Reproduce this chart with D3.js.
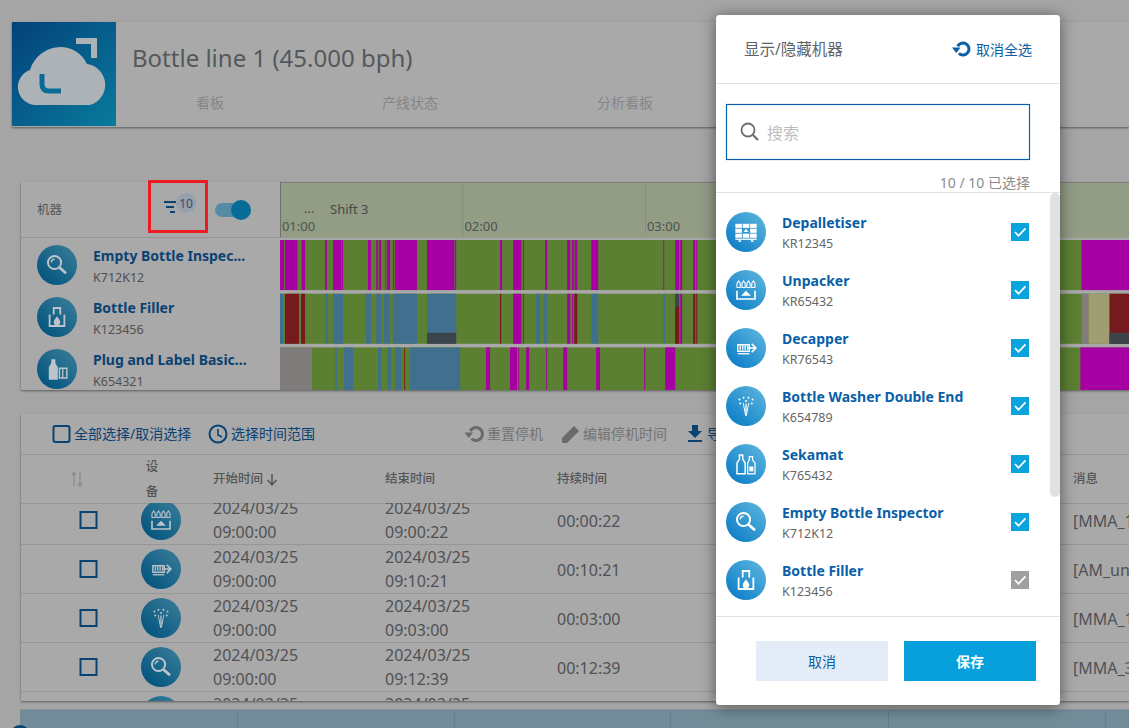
<!DOCTYPE html>
<html>
<head>
<meta charset="utf-8">
<script src="https://cdn.jsdelivr.net/npm/d3@7"></script>
<style>
  html, body { margin: 0; padding: 0; background: #a5a5a5; overflow: hidden; }
  svg { display: block; }
  text { font-family: "Noto Sans", "Noto Sans CJK SC", sans-serif; }
</style>
</head>
<body>
<script>
// timeline values, minutes after 01:00
const hourTicks = [0, 60, 120];
const hourLabels = ["01:00", "02:00", "03:00"];
const machineNames = ["Empty Bottle Inspec...", "Bottle Filler", "Plug and Label Basic..."];
const machineCodes = ["K712K12", "K123456", "K654321"];
const machineIcons = ["search", "filler", "plug"];
const timelineStart = -0.33;
const timelineEnd = 279;

// [start, end, state, optional share of the row, from the bottom]
const inspectorStops = [
  [-0.33, 1, "idle"], [1.3, 5.4, "idle"], [6.8, 7.9, "idle"], [14.5, 15.1, "idle"], [17.1, 19.8, "idle"],
  [20, 20.4, "idle"], [28.6, 29.6, "idle"], [31.3, 31.9, "idle"], [32.2, 32.9, "idle"], [34.3, 34.6, "idle"],
  [34.9, 35.9, "idle"], [36.8, 37.2, "idle"], [37.5, 44.7, "idle"], [48, 56.9, "idle"], [57.1, 57.6, "idle"],
  [72, 72.7, "idle"], [76.3, 79, "idle"], [79.6, 79.9, "idle"], [86.8, 87.5, "idle"], [94.1, 95.1, "idle"],
  [95.7, 96.4, "idle"], [96.6, 97.4, "idle"], [102, 104.3, "idle"], [125.7, 126, "idle"], [129.6, 130.9, "idle"],
  [131.25, 131.9, "idle"], [135.5, 136.2, "idle"], [136.5, 136.85, "idle"], [263.2, 279, "idle"]
];
const fillerStops = [
  [-0.33, 0.7, "wait"], [1.3, 5.9, "fault"], [6.6, 7.9, "fault"], [14.5, 15.5, "wait"], [17.1, 20.4, "wait"],
  [28, 29.6, "wait"], [31.3, 32.9, "wait"], [33.9, 35.9, "wait"], [36.8, 44.7, "wait"], [48, 57.6, "wait"],
  [48, 57.6, "blocked", 0.22], [72, 72.4, "fault"], [76.3, 79, "idle"], [79.6, 79.9, "idle"], [83.9, 85.2, "wait"],
  [86.5, 87.5, "wait"], [94.1, 95.1, "idle"], [95.7, 96.05, "idle"], [96.4, 97.4, "fault"], [102, 104.3, "wait"],
  [125.7, 126.3, "wait"], [129.6, 130.9, "blocked"], [129.6, 130.9, "fault", 0.74], [131.25, 131.9, "idle"],
  [135.5, 136.2, "fault"], [136.5, 136.85, "fault"], [263.2, 265.5, "off"], [265.5, 272.4, "setup"],
  [272.4, 279, "fault"], [272.4, 279, "blocked", 0.22]
];
const plugStops = [
  [-0.33, 10.2, "off"], [17.8, 18.4, "wait"], [20.7, 23.7, "wait"], [31.9, 32.9, "wait"], [34.9, 36.2, "wait"],
  [37.5, 39.5, "wait"], [40.5, 40.8, "fault"], [42.4, 58.9, "wait"], [67.4, 68.75, "idle"], [75.3, 77.6, "idle"],
  [78, 78.3, "idle"], [80.6, 81.6, "idle"], [87.2, 87.5, "idle"], [92.8, 94.1, "idle"], [103.6, 104.9, "idle"],
  [119.4, 119.75, "idle"], [126.3, 129.6, "idle"], [262.8, 279, "idle"]
];
const machineStops = [inspectorStops, fillerStops, plugStops];

// table
const tableIcons = ["unpacker", "decapper", "washer", "search", "depal"];
const tableStart = ["09:00:00", "09:00:00", "09:00:00", "09:00:00", "09:00:00"];
const tableEnd = ["09:00:22", "09:10:21", "09:03:00", "09:12:39", "09:00:00"];
const tableDuration = ["00:00:22", "00:10:21", "00:03:00", "00:12:39", ""];
const tableMessage = ["[MMA_1", "[AM_un", "[MMA_1", "[MMA_3", ""];
const tableDate = "2024/03/25";

// dialog list
const dialogNames = ["Depalletiser", "Unpacker", "Decapper", "Bottle Washer Double End", "Sekamat", "Empty Bottle Inspector", "Bottle Filler"];
const dialogCodes = ["KR12345", "KR65432", "KR76543", "K654789", "K765432", "K712K12", "K123456"];
const dialogIcons = ["depal", "unpacker", "decapper", "washer", "sekamat", "search", "filler"];

const stateColor = {
  run: "#5c8031", idle: "#a600a2", wait: "#41708f", fault: "#761a1d",
  blocked: "#3c454c", off: "#807c7c", setup: "#a09d72"
};
const navy = "#0a4272";
const blue = "#0a5fa8";

const svg = d3.select("body").append("svg").attr("width", 1129).attr("height", 728);
const defs = svg.append("defs");

function gradient (id, x1, y1, x2, y2, from, to) {
  const g = defs.append("linearGradient").attr("id", id)
    .attr("x1", x1).attr("y1", y1).attr("x2", x2).attr("y2", y2);
  g.append("stop").attr("offset", 0).attr("stop-color", from);
  g.append("stop").attr("offset", 1).attr("stop-color", to);
}
gradient("iconDim", 0.15, 0.9, 0.9, 0.1, "#04557f", "#367a97");
gradient("iconBright", 0.15, 0.9, 0.9, 0.1, "#0f80c8", "#58b2dc");
gradient("logoFill", 0, 0, 1, 1, "#03427a", "#097a9c");

defs.append("clipPath").attr("id", "ganttClip").append("rect")
  .attr("x", 280).attr("y", 238).attr("width", 849).attr("height", 152);
defs.append("clipPath").attr("id", "tableClip").append("rect")
  .attr("x", 21).attr("y", 503).attr("width", 1108).attr("height", 198);
defs.append("clipPath").attr("id", "listClip").append("rect")
  .attr("x", 716).attr("y", 193).attr("width", 334).attr("height", 423);

const shadow = defs.append("filter").attr("id", "modalShadow")
  .attr("x", "-15%").attr("y", "-10%").attr("width", "130%").attr("height", "120%");
shadow.append("feDropShadow").attr("dx", 0).attr("dy", 2).attr("stdDeviation", 8)
  .attr("flood-color", "#000").attr("flood-opacity", 0.5);
const panelShadow = defs.append("filter").attr("id", "panelShadow")
  .attr("x", "-2%").attr("y", "-5%").attr("width", "104%").attr("height", "110%");
panelShadow.append("feDropShadow").attr("dx", 0).attr("dy", 1).attr("stdDeviation", 0.8)
  .attr("flood-color", "#000").attr("flood-opacity", 0.45);

function txt (parent, x, y, str, size, color, weight, anchor) {
  return parent.append("text").attr("x", x).attr("y", y)
    .attr("dominant-baseline", "central")
    .attr("font-size", size).attr("fill", color)
    .attr("font-weight", weight || 400)
    .attr("text-anchor", anchor || "start")
    .text(str);
}

function rect (parent, x, y, w, h, fill) {
  return parent.append("rect").attr("x", x).attr("y", y).attr("width", w).attr("height", h).attr("fill", fill);
}

function hline (parent, x1, x2, y, color) {
  parent.append("line").attr("x1", x1).attr("x2", x2).attr("y1", y).attr("y2", y).attr("stroke", color);
}

function drawIcon (parent, name, cx, cy, dim) {
  const g = parent.append("g").attr("transform", `translate(${cx},${cy})`);
  const c = dim ? "#bcc5ca" : "#fff";
  g.append("circle").attr("r", 20).attr("fill", `url(#${dim ? "iconDim" : "iconBright"})`);
  // glyphs are a bit smaller than the drawing box below
  const glyph = g.append("g").attr("transform", "scale(0.82)");
  const line = d => glyph.append("path").attr("d", d).attr("fill", "none").attr("stroke", c)
    .attr("stroke-width", 1.6);
  const solid = d => glyph.append("path").attr("d", d).attr("fill", c);

  if (name === "search") {
    glyph.append("circle").attr("cx", -3).attr("cy", -3).attr("r", 8).attr("fill", "none").attr("stroke", c).attr("stroke-width", 2.4);
    line("M-7,-3 a4,4 0 0 1 4,-4");
    line("M3,3 L11,10").attr("stroke-width", 3.4);
  } else if (name === "filler") {
    line("M-9,-3 V11 H9 V-3").attr("stroke-width", 2.2);
    line("M-4,-3 V-11 H4 V-3").attr("stroke-width", 2.2);
    solid("M0,-1 C2,2 4,4 4,6 a4,4 0 0 1 -8,0 C-4,4 -2,2 0,-1 Z");
  } else if (name === "plug") {
    solid("M-10,-2 L-7,-7 V-12 H-2 V-7 L1,-2 V13 H-10 Z");
    line("M3,-1 H12 V11 H3 Z").attr("stroke-width", 1.8);
    line("M7,-1 V11");
  } else if (name === "unpacker") {
    [-9, -3, 3, 9].forEach(x => {
      line(`M${x - 2},-3 V-8 L${x},-11 L${x + 2},-8 V-3 Z`).attr("stroke-width", 1.3);
    });
    line("M-11,1 V11 H11 V1").attr("stroke-width", 2);
    solid("M-6,7 L0,1 L6,7 Z");
  } else if (name === "decapper") {
    line("M-10,-4 H4 V4 H-10 Z");
    [-7, -4, -1, 2].forEach(x => line(`M${x},-3 V2`));
    line("M-10,7 H4");
    line("M3,0 H11 M7,-5 L12,0 L7,5").attr("stroke-width", 2);
  } else if (name === "washer") {
    solid("M-3,-4 L0,10 L3,-4 L4,-4 L1,12 H-1 L-4,-4 Z");
    [[-8, -8], [-3, -10], [3, -10], [8, -8], [-7, -3], [7, -3], [0, -6]].forEach(p => {
      glyph.append("circle").attr("cx", p[0]).attr("cy", p[1]).attr("r", 1.2).attr("fill", c);
    });
    line("M0,-3 V8");
  } else if (name === "sekamat") {
    line("M-11,-1 L-8,-6 V-11 H-4 V-6 L-1,-1 V12 H-11 Z").attr("stroke-width", 1.8);
    line("M2,-1 L4,-5 V-9 H8 V-5 L11,-1 V12 H2 Z").attr("stroke-width", 1.5);
    solid("M4,3 H9 V9 H4 Z");
  } else {
    [-9, 0, 9].forEach((x, i) => {
      rect(glyph, x - 4, -10, 8, 5, c);
      rect(glyph, x - 4, 2, 8, 5, c);
      if (i !== 1) rect(glyph, x - 4, -4, 8, 5, c);
    });
    solid("M-3,0 L0,-4 L3,0 Z");
    rect(glyph, -13, 8, 26, 1.6, c);
    rect(glyph, -9, 10, 3, 2, c);
    rect(glyph, 6, 10, 3, 2, c);
  }
}

function refreshIcon (parent, cx, cy, color, r) {
  const g = parent.append("g").attr("transform", `translate(${cx},${cy})`);
  g.append("path").attr("d", d3.arc()({ innerRadius: r - 3, outerRadius: r, startAngle: -1.1, endAngle: 3.9 }))
    .attr("fill", color);
  g.append("path").attr("d", `M${-r - 3.5},${-1.5} h8.5 l-4.2,5.5 Z`).attr("fill", color);
}

// ---- background page: top banner
const banner = svg.append("g");
rect(banner, 12, 22, 1117, 105, "#a9a9a9").attr("filter", "url(#panelShadow)");
rect(banner, 12, 22, 104, 104, "url(#logoFill)");
banner.append("path")
  .attr("d", "M36,105 A18,18 0 0 1 30,70 A32,32 0 0 1 62,47 A30,30 0 0 1 87,64 A21,21 0 0 1 90,105 Z")
  .attr("fill", "#adb2b6");
banner.append("path").attr("d", "M76,41 H94 V58").attr("fill", "none").attr("stroke", "#adb2b6").attr("stroke-width", 6);
banner.append("path").attr("d", "M42,74 V84 Q42,91 49,91 H61").attr("fill", "none").attr("stroke", "#0a6a98").attr("stroke-width", 5);
txt(banner, 132, 57.5, "Bottle line 1 (45.000 bph)", 24, "#54585c");
["看板", "产线状态", "分析看板"].forEach((label, i) => {
  txt(banner, [210, 410, 625][i], 102, label, 14, "#868686", 400, "middle");
});

// ---- timeline panel
const gantt = svg.append("g");
rect(gantt, 21, 182, 1108, 208, "#a9a9a9").attr("filter", "url(#panelShadow)");
rect(gantt, 281, 183, 848, 55, "#939d86");
hline(gantt, 281, 1129, 182.5, "#808080");
hline(gantt, 21, 281, 237.5, "#969696");
rect(gantt, 280, 182, 1, 55, "#6f6f6f");
rect(gantt, 280, 238, 849, 152, "#a8a8a8");

const xTime = d3.scaleLinear().domain([0, 60]).range([281, 463.5]);
const yRow = d3.scaleBand().domain(machineNames).range([240, 397.5]).paddingInner(0.068).paddingOuter(0);
const shareHeight = d3.scaleLinear().domain([0, 1]).range([0, yRow.bandwidth()]);

const axis = d3.axisBottom(xTime)
  .tickValues(hourTicks)
  .tickSize(50)
  .tickFormat((d, i) => hourLabels[i]);
const axisG = gantt.append("g").attr("transform", "translate(0,185)").call(axis);
axisG.select(".domain").remove();
axisG.selectAll(".tick line").attr("stroke", "#858e79").attr("transform", "translate(-1,0)");
axisG.selectAll(".tick:first-of-type line").remove();
axisG.selectAll(".tick text")
  .attr("x", 17).attr("y", 41).attr("dy", 0)
  .attr("font-size", 13).attr("fill", "#4d5450")
  .attr("font-family", '"Noto Sans", sans-serif')
  .attr("dominant-baseline", "central");
txt(gantt, 304, 208, "...", 13, "#45494a");
txt(gantt, 330, 209, "Shift 3", 13, "#45494a");

const rows = gantt.append("g").attr("clip-path", "url(#ganttClip)");
machineNames.forEach((name, i) => {
  rows.append("rect")
    .attr("x", xTime(timelineStart)).attr("y", yRow(name))
    .attr("width", xTime(timelineEnd) - xTime(timelineStart)).attr("height", yRow.bandwidth())
    .attr("fill", stateColor.run);
  rows.append("g").selectAll("rect")
    .data(machineStops[i])
    .join("rect")
    .attr("x", d => xTime(d[0]))
    .attr("width", d => xTime(d[1]) - xTime(d[0]))
    .attr("y", d => yRow(name) + yRow.bandwidth() - shareHeight(d[3] === undefined ? 1 : d[3]))
    .attr("height", d => shareHeight(d[3] === undefined ? 1 : d[3]))
    .attr("fill", d => stateColor[d[2]]);
});

txt(gantt, 37, 209, "机器", 12.5, "#555");
machineNames.forEach((name, i) => {
  const cy = 265 + i * 52;
  drawIcon(gantt, machineIcons[i], 57, cy, true);
  txt(gantt, 93, cy - 10, name, 14, navy, 700);
  txt(gantt, 93, cy + 12, machineCodes[i], 12.5, "#505050");
});

// filter badge and toggle
rect(gantt, 164, 201, 12, 2, navy);
rect(gantt, 166, 206, 8, 2, navy);
rect(gantt, 170, 211, 5, 2, navy);
gantt.append("circle").attr("cx", 186).attr("cy", 203).attr("r", 10).attr("fill", "#94a0ac");
txt(gantt, 186, 203, "10", 12, "#3a4a70", 400, "middle");
gantt.append("rect").attr("x", 149.5).attr("y", 181.5).attr("width", 57).attr("height", 50)
  .attr("fill", "none").attr("stroke", "#ed1c24").attr("stroke-width", 3);
gantt.append("rect").attr("x", 215).attr("y", 203).attr("width", 28).attr("height", 14).attr("rx", 7).attr("fill", "#558ba4");
gantt.append("circle").attr("cx", 241).attr("cy", 210).attr("r", 10).attr("fill", "#086c99");

// ---- downtime table
const table = svg.append("g");
rect(table, 21, 414, 1108, 287, "#a9a9a9").attr("filter", "url(#panelShadow)");
table.append("rect").attr("x", 53.5).attr("y", 426).attr("width", 16).attr("height", 16).attr("rx", 2)
  .attr("fill", "none").attr("stroke", navy).attr("stroke-width", 2);
txt(table, 74, 433, "全部选择/取消选择", 14, navy);
table.append("circle").attr("cx", 218).attr("cy", 434).attr("r", 8.5).attr("fill", "none").attr("stroke", navy).attr("stroke-width", 2);
table.append("path").attr("d", "M218,429 V435 L222,437").attr("fill", "none").attr("stroke", navy).attr("stroke-width", 1.6);
txt(table, 231, 433, "选择时间范围", 14, navy);
refreshIcon(table, 476, 434, "#6a6a6a", 8);
txt(table, 487, 433, "重置停机", 14, "#737373");
table.append("path").attr("d", "M562,443 V438 L574,426 L579,431 L567,443 Z").attr("fill", "#6a6a6a");
txt(table, 583, 433, "编辑停机时间", 14, "#737373");
table.append("path").attr("d", "M692,425 H698 V431 H702 L695,438 L688,431 H692 Z").attr("fill", navy);
rect(table, 688, 440, 14, 2, navy);
txt(table, 707, 433, "导", 14, navy);

hline(table, 21, 1129, 454.5, "#969696");
hline(table, 21, 1129, 503.5, "#969696");
table.append("path").attr("d", "M74,472 V486 M72,475 L74,472 L76,475 M80,472 V486 M78,483 L80,486 L82,483")
  .attr("fill", "none").attr("stroke", "#8e8e8e").attr("stroke-width", 1.4);
txt(table, 152, 466, "设", 12.5, "#555", 500, "middle");
txt(table, 152, 491, "备", 12.5, "#555", 500, "middle");
txt(table, 213, 478.5, "开始时间", 12.5, "#555", 500);
table.append("path").attr("d", "M272,474 V484 M267.5,480 L272,485 L276.5,480").attr("fill", "none").attr("stroke", "#555").attr("stroke-width", 1.5);
txt(table, 385, 478.5, "结束时间", 12.5, "#555", 500);
txt(table, 557, 478.5, "持续时间", 12.5, "#555", 500);
txt(table, 1073, 478.5, "消息", 12.5, "#555", 500);

const tableBody = table.append("g").attr("clip-path", "url(#tableClip)");
const yTable = d3.scaleLinear().domain([0, 1]).range([520, 569]);
tableIcons.forEach((icon, i) => {
  const cy = yTable(i);
  hline(tableBody, 21, 1129, cy + 24.5, "#969696");
  tableBody.append("rect").attr("x", 80.5).attr("y", cy - 8).attr("width", 16).attr("height", 16)
    .attr("fill", "none").attr("stroke", navy).attr("stroke-width", 2);
  drawIcon(tableBody, icon, 161, cy, true);
  txt(tableBody, 213, cy - 12, tableDate, 16, "#505155");
  txt(tableBody, 213, cy + 11.5, tableStart[i], 16, "#505155");
  txt(tableBody, 385, cy - 12, tableDate, 16, "#505155");
  txt(tableBody, 385, cy + 11.5, tableEnd[i], 16, "#505155");
  txt(tableBody, 557, cy + 0.5, tableDuration[i], 16, "#505155");
  txt(tableBody, 1073, cy + 0.5, tableMessage[i], 16, "#505155");
});

// ---- bottom bar
const bottom = svg.append("g");
rect(bottom, 20, 709, 1109, 19, "#718c98");
hline(bottom, 20, 1129, 709.5, "#84949a");
[237, 454, 670, 888, 1105].forEach(x => rect(bottom, x, 710, 1, 18, "#647f8b"));
bottom.append("circle").attr("cx", 20).attr("cy", 735).attr("r", 10).attr("fill", "#0a4272");

// ---- dialog
const modal = svg.append("g");
modal.append("rect").attr("x", 716).attr("y", 15).attr("width", 344).attr("height", 690).attr("rx", 4)
  .attr("fill", "#fff").attr("filter", "url(#modalShadow)");
txt(modal, 744, 49, "显示/隐藏机器", 15.5, "#606468");
refreshIcon(modal, 963, 49, blue, 7.5);
txt(modal, 976, 49, "取消全选", 14, blue);
hline(modal, 716, 1060, 83.5, "#e2e2e2");
modal.append("rect").attr("x", 726.5).attr("y", 104.5).attr("width", 303).attr("height", 55)
  .attr("fill", "none").attr("stroke", blue).attr("stroke-width", 1.2);
modal.append("circle").attr("cx", 748).attr("cy", 130).attr("r", 6.5).attr("fill", "none").attr("stroke", "#6e6e6e").attr("stroke-width", 1.8);
modal.append("path").attr("d", "M753,135 L758,140").attr("stroke", "#6e6e6e").attr("stroke-width", 2.2);
txt(modal, 767, 133, "搜索", 16, "#bdbdbd");
txt(modal, 1030, 182, "10 / 10 已选择", 14, "#8c8c8c", 400, "end");
hline(modal, 716, 1060, 192.5, "#e2e2e2");

const list = modal.append("g").attr("clip-path", "url(#listClip)");
const yList = d3.scaleLinear().domain([0, 1]).range([232, 290]);
dialogNames.forEach((name, i) => {
  const cy = yList(i);
  drawIcon(list, dialogIcons[i], 746, cy, false);
  txt(list, 782, cy - 10, name, 14, blue, 700);
  txt(list, 782, cy + 11.5, dialogCodes[i], 12.5, "#666");
  rect(list, 1011, cy - 9, 18, 18, i === dialogNames.length - 1 ? "#a0a0a0" : "#0aa3dd");
  list.append("path").attr("d", `M${1015},${cy} l3.5,3.8 l7,-7.5`).attr("fill", "none").attr("stroke", "#fff").attr("stroke-width", 1.8);
});
modal.append("rect").attr("x", 1050).attr("y", 193).attr("width", 10).attr("height", 304).attr("rx", 5).attr("fill", "#e0e1e3");
hline(modal, 716, 1060, 616.5, "#e2e2e2");
rect(modal, 756, 641, 132, 40, "#e4edf7");
txt(modal, 822, 661, "取消", 14, blue, 400, "middle");
rect(modal, 904, 641, 132, 40, "#08a0dc");
txt(modal, 970, 661, "保存", 14, "#fff", 700, "middle");
</script>
</body>
</html>
